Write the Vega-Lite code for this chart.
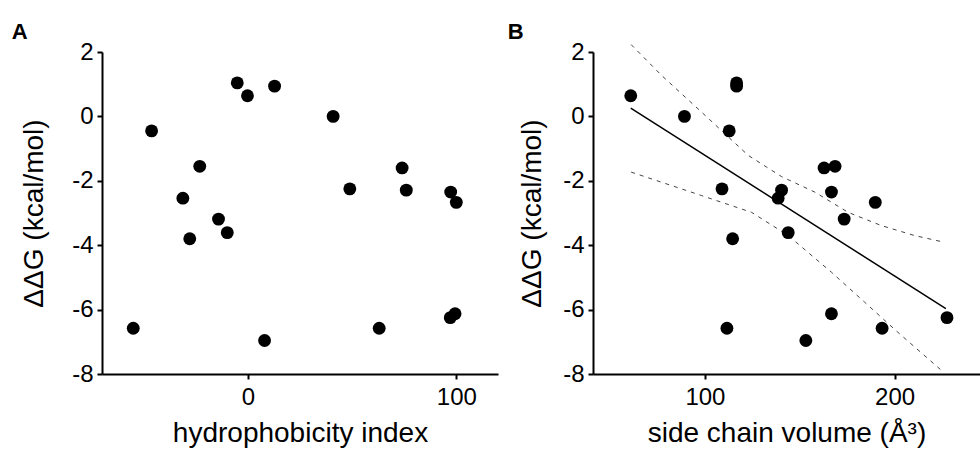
{
  "$schema": "https://vega.github.io/schema/vega-lite/v6.json",
  "background": "white",
  "padding": {"left": 11, "top": 21, "right": 2, "bottom": 5},
  "config": {
    "font": "Liberation Sans",
    "view": {"stroke": null},
    "axis": {
      "domainColor": "black", "domainWidth": 2, "tickColor": "black", "tickWidth": 2, "tickSize": 5,
      "labelFontSize": 24, "titleFontSize": 28, "labelColor": "black", "titleColor": "black",
      "titleFontWeight": "normal", "grid": false, "labelFont": "Liberation Sans", "titleFont": "Liberation Sans",
      "labelPadding": 4, "labelExpr": "'' + datum.value"
    },
    "axisX": {"labelPadding": 6},
    "title": {"fontSize": 22, "fontWeight": "bold", "anchor": "start", "color": "black", "font": "Liberation Sans", "offset": -4}
  },
  "datasets": {
    "mutants": [
      {"hydrophobicity": -5.1, "volume": 116.7, "ddG": 1.04},
      {"hydrophobicity": 12.8, "volume": 116.7, "ddG": 0.94},
      {"hydrophobicity": -0.2, "volume": 60.9, "ddG": 0.64},
      {"hydrophobicity": 40.9, "volume": 89.2, "ddG": 0.0},
      {"hydrophobicity": -46.2, "volume": 112.8, "ddG": -0.45},
      {"hydrophobicity": -23.1, "volume": 168.6, "ddG": -1.55},
      {"hydrophobicity": 74.0, "volume": 162.8, "ddG": -1.6},
      {"hydrophobicity": 48.9, "volume": 109.0, "ddG": -2.25},
      {"hydrophobicity": 76.0, "volume": 140.4, "ddG": -2.29},
      {"hydrophobicity": 97.3, "volume": 166.7, "ddG": -2.35},
      {"hydrophobicity": -31.2, "volume": 138.6, "ddG": -2.54},
      {"hydrophobicity": 100.0, "volume": 189.8, "ddG": -2.67},
      {"hydrophobicity": -14.1, "volume": 173.4, "ddG": -3.19},
      {"hydrophobicity": -9.9, "volume": 143.9, "ddG": -3.61},
      {"hydrophobicity": -27.9, "volume": 114.6, "ddG": -3.8},
      {"hydrophobicity": 99.4, "volume": 166.7, "ddG": -6.13},
      {"hydrophobicity": 97.1, "volume": 227.6, "ddG": -6.25},
      {"hydrophobicity": -55.0, "volume": 111.6, "ddG": -6.58},
      {"hydrophobicity": 63.0, "volume": 193.4, "ddG": -6.58},
      {"hydrophobicity": 8.0, "volume": 153.2, "ddG": -6.96}
    ],
    "fit": [
      {"volume": 60.9, "ddG": 0.26},
      {"volume": 227.0, "ddG": -5.97}
    ],
    "band": [
      {"bound": "upper", "volume": 61.1, "ddG": 2.23},
      {"bound": "upper", "volume": 77.2, "ddG": 1.27},
      {"bound": "upper", "volume": 98.3, "ddG": 0.13},
      {"bound": "upper", "volume": 122.8, "ddG": -1.21},
      {"bound": "upper", "volume": 140.4, "ddG": -1.87},
      {"bound": "upper", "volume": 157.9, "ddG": -2.35},
      {"bound": "upper", "volume": 175.5, "ddG": -2.98},
      {"bound": "upper", "volume": 193.0, "ddG": -3.39},
      {"bound": "upper", "volume": 210.5, "ddG": -3.7},
      {"bound": "upper", "volume": 226.3, "ddG": -3.91},
      {"bound": "lower", "volume": 61.1, "ddG": -1.73},
      {"bound": "lower", "volume": 98.3, "ddG": -2.46},
      {"bound": "lower", "volume": 124.6, "ddG": -2.98},
      {"bound": "lower", "volume": 143.9, "ddG": -3.7},
      {"bound": "lower", "volume": 166.7, "ddG": -4.84},
      {"bound": "lower", "volume": 184.2, "ddG": -5.77},
      {"bound": "lower", "volume": 201.8, "ddG": -6.71},
      {"bound": "lower", "volume": 225.5, "ddG": -7.93}
    ]
  },
  "bounds": "flush",
  "spacing": 95,
  "hconcat": [
    {
      "width": 396,
      "height": 322,
      "title": {"text": "A", "frame": "bounds", "dx": -9},
      "data": {"name": "mutants"},
      "mark": {"type": "circle", "size": 165, "opacity": 1, "color": "black"},
      "encoding": {
        "x": {"field": "hydrophobicity", "type": "quantitative",
              "scale": {"domain": [-70, 120], "nice": false, "zero": false},
              "axis": {"values": [0, 100], "title": "hydrophobicity index", "titlePadding": 10}},
        "y": {"field": "ddG", "type": "quantitative",
              "scale": {"domain": [-8, 2], "nice": false, "zero": false},
              "axis": {"values": [-8, -6, -4, -2, 0, 2], "title": "ΔΔG (kcal/mol)", "titlePadding": 23}}
      }
    },
    {
      "width": 387,
      "height": 322,
      "title": {"text": "B", "frame": "bounds", "dx": -11},
      "encoding": {
        "x": {"field": "volume", "type": "quantitative",
              "scale": {"domain": [41, 245], "nice": false, "zero": false},
              "axis": {"values": [100, 200], "title": "side chain volume (Å³)", "titlePadding": 10}},
        "y": {"field": "ddG", "type": "quantitative",
              "scale": {"domain": [-8, 2], "nice": false, "zero": false},
              "axis": {"values": [-8, -6, -4, -2, 0, 2], "title": "ΔΔG (kcal/mol)", "titlePadding": 16}}
      },
      "layer": [
        {
          "data": {"name": "band"},
          "mark": {"type": "line", "color": "#444444", "strokeWidth": 1, "strokeDash": [4, 5]},
          "encoding": {"detail": {"field": "bound", "type": "nominal"}}
        },
        {
          "data": {"name": "fit"},
          "mark": {"type": "line", "color": "black", "strokeWidth": 1.5}
        },
        {
          "data": {"name": "mutants"},
          "mark": {"type": "circle", "size": 165, "opacity": 1, "color": "black"}
        }
      ]
    }
  ]
}
